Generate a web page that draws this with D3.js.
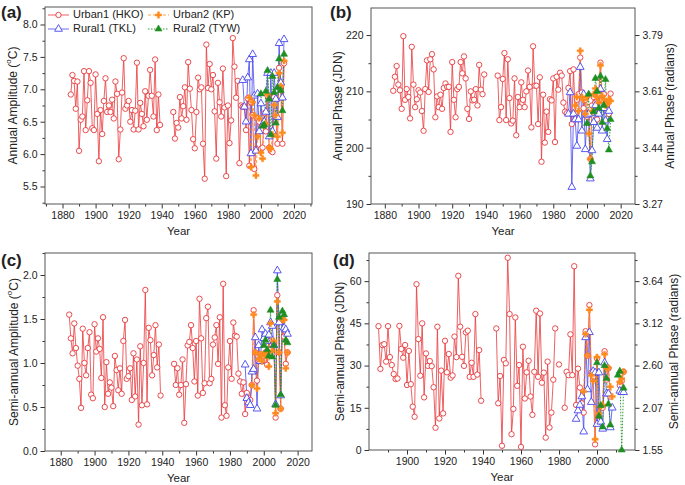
<!DOCTYPE html>
<html><head><meta charset="utf-8">
<script src="https://cdn.jsdelivr.net/npm/d3@7"></script>
<style>
body{margin:0;background:#fff}
svg{display:block}
text{font-family:"Liberation Sans",Arial,sans-serif;fill:#222}
</style>
</head><body>
<svg id="chart" width="685" height="485"></svg>
<script>
// ---------- DATA ----------
const hkoStart = 1885, tklStart = 1989, kpStart = 1993, tywStart = 2000;
const seriesNames = ["Urban1 (HKO)", "Urban2 (KP)", "Rural1 (TKL)", "Rural2 (TYW)"];
const gap7 = [null, null, null, null, null, null, null]; // 1940-1946 missing

// (a) Annual amplitude (°C)
const ampHKO = [
  6.92,7.22,7.13,6.70,7.12,6.05,6.53,6.58,7.28,6.37,
  6.83,7.28,7.10,6.40,6.37,7.23,6.62,5.89,6.68,6.31,
  6.82,7.17,6.65,6.75,6.65,6.84,6.55,7.12,6.93,5.92,
  6.38,6.95,7.48,6.70,6.75,6.82,6.50,6.68,6.38,6.67,
  7.41,6.38,6.79,6.62,6.43,6.97,6.53,6.90,7.30,6.90,
  6.58,7.46,6.37,6.92,6.45,
  ...gap7,
  6.65,6.24,6.48,6.41,6.88,6.55,6.74,7.03,6.53,7.42,
  7.01,6.68,6.23,6.09,6.65,7.18,7.00,7.03,6.16,5.62,
  7.69,7.02,7.39,7.00,7.22,6.66,5.93,7.10,6.80,6.58,
  7.32,6.72,5.66,6.75,6.17,6.52,7.79,7.35,6.87,7.13,
  5.86,6.75,6.73,6.73,6.37,6.86,5.82,6.80,6.60,5.77,
  6.08,6.55,6.50,6.08,6.10,6.63,6.35,6.90,6.10,6.05,
  6.03,6.88,6.57,6.16,7.33,7.05,6.16,7.40
];
const ampTKL = [7.14,6.73,6.50,7.18,7.46,6.01,7.54,6.90,6.05,6.93,6.35,6.78,6.45,6.50,6.65,7.25,6.27,7.25,6.35,7.25,6.85,6.57,7.71,7.10,6.87,7.77];
const ampKP  = [6.87,5.80,6.80,6.60,5.67,6.27,6.55,6.02,5.93,6.45,6.47,6.92,6.10,6.08,6.30,6.76,6.60,6.27,7.25,7.05,6.33,7.44];
const ampTYW = [6.93,6.43,6.45,6.97,7.29,6.85,6.30,7.20,6.95,6.48,7.03,7.47,6.98,6.67,7.54];

// (b) Annual phase (JDN)
const phHKO = [
  210.1,212.6,214.5,211.2,210.2,206.9,219.8,208.5,210.4,209.0,
  205.2,217.9,211.2,207.2,208.6,210.2,209.8,206.5,203.0,210.4,
  215.5,209.9,215.7,216.6,213.9,205.4,209.1,207.2,209.4,206.9,
  210.6,211.4,210.8,210.8,202.8,215.2,208.5,205.4,210.4,210.8,
  215.2,213.2,216.2,212.3,206.9,205.1,210.0,208.4,208.5,210.4,
  207.5,214.7,210.3,209.5,213.0,
  ...gap7,
  212.8,204.9,207.2,212.2,216.8,204.9,215.7,208.8,204.3,204.8,
  212.3,202.2,209.0,207.2,211.6,208.5,207.2,210.0,213.7,210.8,
  203.6,218.0,211.0,211.0,204.2,212.5,197.5,209.4,200.9,206.4,
  202.8,208.6,208.4,212.3,201.0,212.6,210.3,213.3,212.8,208.0,
  206.4,206.1,210.6,213.6,204.2,213.9,
  206.0,208.5,209.5,216.0,209.8,207.0,208.5,205.5,206.0,198.0,
  207.5,209.0,208.0,205.0,209.5,215.1,208.5,209.5,207.0,207.8,
  206.0,209.6
];
const phTKL = [206.0,209.8,193.0,206.0,205.0,200.3,205.0,214.3,203.0,209.5,199.7,205.8,206.0,194.5,199.5,204.5,207.5,203.5,206.0,210.4,203.0,207.0,204.8,201.5,206.5];
const phKP  = [207.5,209.0,206.5,217.2,209.0,208.5,206.0,209.0,202.5,198.0,206.5,209.5,210.5,209.0,208.0,214.6,209.2,208.5,207.5,207.8,208.6,208.3];
const phTYW = [204.3,209.5,195.0,197.5,206.4,212.3,210.0,207.0,212.7,204.5,207.5,212.1,203.4,199.6,205.0];

// (c) Semi-annual amplitude (°C)
const saHKO = [
  1.55,1.28,1.11,1.45,1.17,0.97,0.82,0.49,1.39,1.00,
  0.86,1.17,1.35,0.64,0.60,1.44,1.13,1.28,1.16,0.83,
  1.52,0.50,1.01,0.65,0.78,0.72,0.51,1.08,0.92,0.69,
  0.94,0.65,1.25,1.49,0.82,0.85,0.94,0.58,1.11,0.62,
  1.04,0.30,1.19,0.52,1.00,1.83,0.53,1.40,1.26,0.86,
  1.09,1.43,0.95,1.21,0.63,
  ...gap7,
  0.99,0.75,0.94,0.64,0.75,1.04,0.32,0.76,1.20,1.24,
  1.43,1.17,0.79,1.25,0.63,1.73,1.28,0.66,0.77,1.51,
  1.64,0.77,0.82,1.21,1.29,1.43,0.99,1.52,0.38,1.90,
  0.52,0.40,0.95,1.25,0.82,1.46,1.31,1.30,0.88,0.79,
  0.65,0.78,0.42,0.66,
  0.60,0.58,0.75,1.60,1.12,0.80,1.02,1.10,1.02,1.08,
  1.12,0.98,1.25,1.15,1.10,1.22,0.38,1.77,1.12,0.48,
  1.50,1.30,0.99,1.12
];
const saTKL = [0.98,0.60,0.55,0.52,0.90,0.93,1.29,0.48,1.20,1.02,1.38,1.28,1.33,1.25,1.32,1.46,1.42,1.20,0.53,2.05,1.46,0.63,1.55,1.40,1.38,1.33];
const saKP  = [0.75,1.55,1.12,0.71,1.05,1.10,1.02,1.10,1.08,1.12,0.96,1.45,1.14,1.25,0.43,1.70,1.12,0.48,1.49,1.49,0.94,1.12];
const saTYW = [1.20,1.26,1.15,1.08,1.60,1.07,1.20,0.52,1.95,1.52,0.64,1.59,1.55,1.26,1.23];

// (d) Semi-annual phase (JDN)
const spHKO = [
  44.0,28.8,37.3,37.6,31.4,44.0,33.0,30.2,27.0,25.2,
  25.4,44.1,35.9,32.8,37.3,23.1,35.2,23.4,15.4,11.8,
  58.9,39.4,26.4,45.0,18.7,34.3,29.9,31.6,29.8,22.3,
  7.9,43.8,11.2,28.2,13.0,38.8,27.6,34.1,25.7,26.5,
  40.3,33.0,61.9,43.8,33.1,29.9,41.8,42.4,26.0,31.0,
  26.0,48.3,26.8,35.5,17.5,
  ...gap7,
  43.2,16.6,26.3,1.5,32.0,30.8,68.3,48.3,5.6,14.6,
  47.1,22.8,30.2,1.1,36.7,18.3,27.6,31.7,19.0,12.5,
  27.8,49.5,26.0,48.5,23.9,27.5,4.4,31.4,8.0,13.3,
  25.0,43.2,null,30.4,null,null,15.0,27.8,26.6,41.1,
  26.6,65.3,16.0,28.9,22.2,16.6,13.3,42.2,33.5,51.5,
  27.5,26.0,2.0,32.5,12.0,15.5,15.0,35.1,25.0,29.0,
  19.0,null,null,null,null,23.0,24.5,27.8
];
const spTKL = [11.0,14.0,16.0,19.0,6.5,40.0,21.5,41.8,17.0,28.0,27.5,9.2,27.5,10.0,7.5,31.0,20.0,20.0,8.0,15.0,null,null,null,21.0,20.5,20.5];
const spKP  = [20.8,41.2,33.5,49.8,26.5,24.5,3.8,33.0,13.0,15.5,16.0,34.0,29.0,29.2,22.5,19.0,null,null,null,24.2,25.4,27.8];
const spTYW = [31.0,12.0,15.8,8.2,30.0,25.4,16.3,8.9,null,null,null,26.6,28.0,0.0,22.0];

// axis tick labels
const yearTicks = [1880,1900,1920,1940,1960,1980,2000,2020];
const yearTicksD = [1900,1920,1940,1960,1980,2000];
const ampTicks = [5.5,6.0,6.5,7.0,7.5,8.0];
const phTicks = [190,200,210,220];
const phRadLabels = ["3.27","3.44","3.61","3.79"];
const saTicks = [0.0,0.5,1.0,1.5,2.0];
const spTicks = [0,15,30,45,60];
const spRadLabels = ["1.55","2.07","2.60","3.12","3.64"];

// ---------- STYLE ----------
const C = {hko:"#e8383b", kp:"#ff8a1c", tkl:"#4646ee", tyw:"#1f8f22"};
const svg = d3.select("#chart");

const toPts = (arr, start) => arr.map((v,i)=>({yr:start+i, v}));

function marker(sel, type, color){
  if(type==="circle"){
    sel.append("circle").attr("r",2.7).attr("fill","#fff").attr("stroke",color).attr("stroke-width",0.9);
  } else if(type==="triOpen"){
    sel.append("path").attr("d",d3.symbol(d3.symbolTriangle,26)()).attr("fill","#fff").attr("stroke",color).attr("stroke-width",0.9);
  } else if(type==="triFill"){
    sel.append("path").attr("d",d3.symbol(d3.symbolTriangle,22)()).attr("fill",color).attr("stroke",color).attr("stroke-width",0.5);
  } else if(type==="star"){
    sel.append("path").attr("d",d3.symbol(d3.symbolCross,22)()).attr("fill",color).attr("stroke",color).attr("stroke-width",0.4);
  }
}

const styles = {
  hko:{type:"circle", dash:null, w:0.8},
  tkl:{type:"triOpen", dash:null, w:0.8},
  kp:{type:"star", dash:"3,2", w:0.8},
  tyw:{type:"triFill", dash:"1.5,1.5", w:0.9}
};

function drawPanel(cfg){
  const g = svg.append("g");
  const x = d3.scaleLinear().domain(cfg.xDomain).range([cfg.left, cfg.right]);
  const y = d3.scaleLinear().domain(cfg.yDomain).range([cfg.bottom, cfg.top]);

  // minor ticks
  const minorX = d3.range(1870, 2031, 10).filter(v=>!cfg.xTicks.includes(v) && v>cfg.xDomain[0] && v<cfg.xDomain[1]);
  g.append("g").attr("transform",`translate(0,${cfg.bottom})`)
    .call(d3.axisBottom(x).tickValues(minorX).tickSize(2.5).tickFormat(""))
    .call(a=>a.select(".domain").remove());
  g.append("g").attr("transform",`translate(${cfg.left},0)`)
    .call(d3.axisLeft(y).tickValues(cfg.yMinor).tickSize(2.5).tickFormat(""))
    .call(a=>a.select(".domain").remove());

  const xa = g.append("g").attr("transform",`translate(0,${cfg.bottom})`)
    .call(d3.axisBottom(x).tickValues(cfg.xTicks).tickSize(4.5).tickPadding(3).tickFormat(d3.format("d")));
  xa.select(".domain").remove();
  xa.selectAll("text").attr("font-size",10.5);
  const ya = g.append("g").attr("transform",`translate(${cfg.left},0)`)
    .call(d3.axisLeft(y).tickValues(cfg.yTicks).tickSize(4.5).tickPadding(3).tickFormat(cfg.yFmt));
  ya.select(".domain").remove();
  ya.selectAll("text").attr("font-size",10.5);

  if(cfg.rightLabels){
    g.append("g").attr("transform",`translate(${cfg.right},0)`)
      .call(d3.axisRight(y).tickValues(cfg.yMinor).tickSize(2.5).tickFormat(""))
      .call(a=>a.select(".domain").remove());
    const ra = g.append("g").attr("transform",`translate(${cfg.right},0)`)
      .call(d3.axisRight(y).tickValues(cfg.yTicks).tickSize(4.5).tickPadding(3).tickFormat((d,i)=>cfg.rightLabels[i]));
    ra.select(".domain").remove();
    ra.selectAll("text").attr("font-size",10.5);
    g.append("text").attr("transform",`translate(${cfg.rightTitleX},${(cfg.top+cfg.bottom)/2}) rotate(-90)`)
      .attr("text-anchor","middle").attr("dominant-baseline","middle").attr("font-size",12).text(cfg.rightTitle);
  }
  g.selectAll(".tick line").attr("stroke","#333");

  // frame
  g.append("rect").attr("x",cfg.left).attr("y",cfg.top).attr("width",cfg.right-cfg.left).attr("height",cfg.bottom-cfg.top)
    .attr("fill","none").attr("stroke","#555").attr("stroke-width",1);

  // titles
  g.append("text").attr("x",(cfg.left+cfg.right)/2).attr("y",cfg.bottom+28).attr("text-anchor","middle")
    .attr("dominant-baseline","middle").attr("font-size",11.5).text("Year");
  const yt = g.append("text").attr("transform",`translate(${cfg.yTitleX},${(cfg.top+cfg.bottom)/2}) rotate(-90)`)
    .attr("text-anchor","middle").attr("dominant-baseline","middle").attr("font-size",12);
  if(cfg.sup){
    yt.append("tspan").text(cfg.yTitle + " (");
    yt.append("tspan").attr("font-size",8).attr("dy",-5).text("o");
    yt.append("tspan").attr("dy",5).text("C)");
  } else yt.text(cfg.yTitle);

  g.append("text").attr("x",cfg.labelX).attr("y",cfg.labelY).attr("font-size",17).attr("font-weight","bold").text(cfg.label);

  // series
  const clip = "clip"+cfg.label.replace(/\W/g,"");
  svg.append("clipPath").attr("id",clip).append("rect").attr("x",cfg.left).attr("y",cfg.top-4).attr("width",cfg.right-cfg.left).attr("height",cfg.bottom-cfg.top+8);
  const sg = g.append("g").attr("clip-path",`url(#${clip})`);
  const order = ["hko","tkl","kp","tyw"];
  order.forEach(k=>{
    const pts = toPts(cfg.data[k], cfg.starts[k]);
    const line = d3.line().defined(d=>d.v!==null).x(d=>x(d.yr)).y(d=>y(d.v));
    sg.append("path").attr("d",line(pts)).attr("fill","none").attr("stroke",C[k])
      .attr("stroke-width",styles[k].w).attr("stroke-dasharray",styles[k].dash);
  });
  order.forEach(k=>{
    const pts = toPts(cfg.data[k], cfg.starts[k]).filter(d=>d.v!==null);
    sg.selectAll(null).data(pts).join("g").attr("transform",d=>`translate(${x(d.yr)},${y(d.v)})`)
      .each(function(){ marker(d3.select(this), styles[k].type, C[k]); });
  });
  return g;
}

const starts = {hko:hkoStart, tkl:tklStart, kp:kpStart, tyw:tywStart};

drawPanel({left:45,right:312,top:7,bottom:204,xDomain:[1869.4,2030.9],yDomain:[5.23,8.27],
  xTicks:yearTicks,yTicks:ampTicks,yMinor:[5.25,5.75,6.25,6.75,7.25,7.75,8.25],yFmt:d3.format(".1f"),
  yTitle:"Annual Amplitude",sup:true,yTitleX:14,label:"(a)",labelX:1,labelY:18,
  data:{hko:ampHKO,tkl:ampTKL,kp:ampKP,tyw:ampTYW},starts});

drawPanel({left:371,right:635,top:8,bottom:204,xDomain:[1871.8,2028.5],yDomain:[190,224.8],
  xTicks:yearTicks,yTicks:phTicks,yMinor:[195,205,215],yFmt:d3.format("d"),
  yTitle:"Annual Phase (JDN)",yTitleX:339,rightLabels:phRadLabels,rightTitle:"Annual Phase (radians)",rightTitleX:671,
  label:"(b)",labelX:330,labelY:18,
  data:{hko:phHKO,tkl:phTKL,kp:phKP,tyw:phTYW},starts});

drawPanel({left:45,right:312,top:253,bottom:451,xDomain:[1870.7,2028.5],yDomain:[0,2.25],
  xTicks:yearTicks,yTicks:saTicks,yMinor:[0.25,0.75,1.25,1.75,2.25],yFmt:d3.format(".1f"),
  yTitle:"Semi-annual Amplitude",sup:true,yTitleX:15,label:"(c)",labelX:1,labelY:266,
  data:{hko:saHKO,tkl:saTKL,kp:saKP,tyw:saTYW},starts});

drawPanel({left:369,right:635,top:253,bottom:450,xDomain:[1880,2020],yDomain:[0,70],
  xTicks:yearTicksD,yTicks:spTicks,yMinor:[7.5,22.5,37.5,52.5,67.5],yFmt:d3.format("d"),
  yTitle:"Semi-annual Phase (JDN)",yTitleX:341,rightLabels:spRadLabels,rightTitle:"Semi-annual Phase (radians)",rightTitleX:675,
  label:"(d)",labelX:333,labelY:266,
  data:{hko:spHKO,tkl:spTKL,kp:spKP,tyw:spTYW},starts});

// legend in panel (a)
const legend = svg.append("g");
const legItems = [
  {k:"hko",name:seriesNames[0],lx:48,ly:15},
  {k:"kp",name:seriesNames[1],lx:148,ly:15},
  {k:"tkl",name:seriesNames[2],lx:48,ly:29},
  {k:"tyw",name:seriesNames[3],lx:148,ly:29}
];
legItems.forEach(it=>{
  legend.append("line").attr("x1",it.lx).attr("x2",it.lx+21).attr("y1",it.ly).attr("y2",it.ly)
    .attr("stroke",C[it.k]).attr("stroke-width",styles[it.k].w).attr("stroke-dasharray",styles[it.k].dash);
  const m = legend.append("g").attr("transform",`translate(${it.lx+10.5},${it.ly})`);
  marker(m, styles[it.k].type, C[it.k]);
  legend.append("text").attr("x",it.lx+25).attr("y",it.ly).attr("dominant-baseline","middle")
    .attr("font-size",11).text(it.name);
});
</script>
</body></html>
